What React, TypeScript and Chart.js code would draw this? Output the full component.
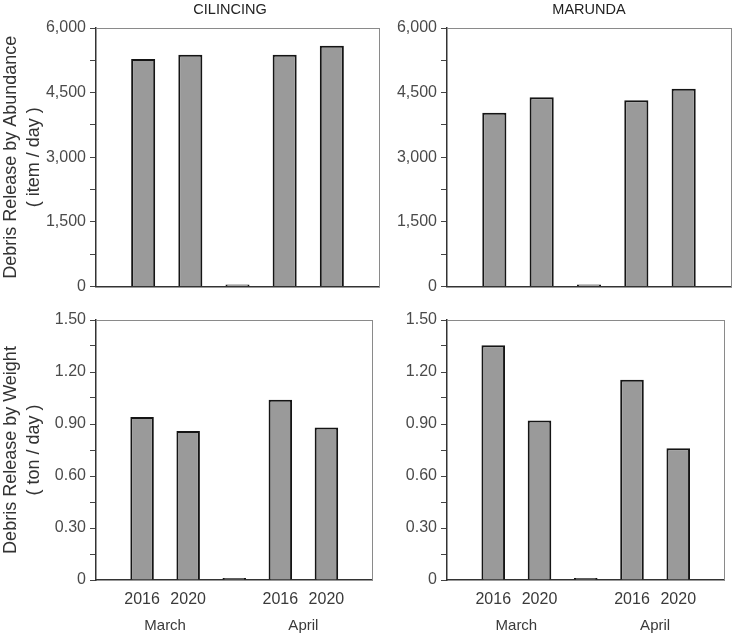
import React, { useEffect, useRef } from 'react';
import { Chart, registerables } from 'chart.js';

Chart.register(...registerables);

// ---------- data ----------
const YEAR_LABELS = ['', '2016', '2020', '', '2016', '2020', ''];
const MONTHS = ['March', 'April'];
const MONTH_POSITIONS = [1.5, 4.5];

const CILINCING_ABUNDANCE = [null, 5280, 5380, 0, 5380, 5590, null];
const MARUNDA_ABUNDANCE = [null, 4030, 4390, 0, 4320, 4590, null];
const CILINCING_WEIGHT = [null, 0.94, 0.86, 0, 1.04, 0.88, null];
const MARUNDA_WEIGHT = [null, 1.355, 0.92, 0, 1.155, 0.76, null];

const ABUNDANCE_MAX = 6000;
const ABUNDANCE_STEP = 750; // minor tick step (labels every 2 steps)
const WEIGHT_MAX = 1.5;
const WEIGHT_STEP = 0.15;

const PANEL_TITLES = ['CILINCING', 'MARUNDA'];
const ABUNDANCE_TITLE = ['Debris Release by Abundance', '( item / day )'];
const WEIGHT_TITLE = ['Debris Release by Weight', '( ton / day )'];

const FONT = '"Liberation Sans", Arial, Helvetica, sans-serif';

type Box = { left: number; top: number; width: number; height: number };
type Panel = {
  title?: string;
  titleFull?: boolean;
  yTitle?: string[];
  data: (number | null)[];
  max: number;
  step: number;
  fmt: (v: number) => string;
  showX: boolean;
  box: Box;
  yWidth: number;
  rWidth: number;
  padTop: number;
  padRight: number;
  xHeight: number;
};

const fmtThousands = (v: number, step: number) => {
  if (Math.round(v / step) % 2 !== 0) return '';
  return String(Math.round(v)).replace(/\B(?=(\d{3})+(?!\d))/g, ',');
};
const fmtDecimal = (v: number, step: number) => {
  if (Math.round(v / step) % 2 !== 0) return '';
  return Math.abs(v) < 1e-9 ? '0' : v.toFixed(2);
};

const PANELS: Panel[] = [
  {
    title: PANEL_TITLES[0],
    titleFull: true,
    yTitle: ABUNDANCE_TITLE,
    data: CILINCING_ABUNDANCE,
    max: ABUNDANCE_MAX,
    step: ABUNDANCE_STEP,
    fmt: (v) => fmtThousands(v, ABUNDANCE_STEP),
    showX: false,
    box: { left: 0, top: 0, width: 460, height: 300 },
    yWidth: 96,
    rWidth: 81,
    padTop: 0,
    padRight: 0,
    xHeight: 11,
  },
  {
    title: PANEL_TITLES[1],
    titleFull: false,
    data: MARUNDA_ABUNDANCE,
    max: ABUNDANCE_MAX,
    step: ABUNDANCE_STEP,
    fmt: (v) => fmtThousands(v, ABUNDANCE_STEP),
    showX: false,
    box: { left: 380, top: 0, width: 354, height: 300 },
    yWidth: 67,
    rWidth: 0,
    padTop: 0,
    padRight: 3,
    xHeight: 11,
  },
  {
    yTitle: WEIGHT_TITLE,
    data: CILINCING_WEIGHT,
    max: WEIGHT_MAX,
    step: WEIGHT_STEP,
    fmt: (v) => fmtDecimal(v, WEIGHT_STEP),
    showX: true,
    box: { left: 0, top: 300, width: 382, height: 337 },
    yWidth: 96,
    rWidth: 0,
    padTop: 20,
    padRight: 3,
    xHeight: 36,
  },
  {
    data: MARUNDA_WEIGHT,
    max: WEIGHT_MAX,
    step: WEIGHT_STEP,
    fmt: (v) => fmtDecimal(v, WEIGHT_STEP),
    showX: true,
    box: { left: 380, top: 300, width: 354, height: 337 },
    yWidth: 67,
    rWidth: 0,
    padTop: 20,
    padRight: 3,
    xHeight: 36,
  },
];

const MONTH_AXIS_HEIGHT = 21;

function buildConfig(p: Panel): any {
  const tickFont = { family: FONT, size: 16 };
  const scales: any = {
    x: {
      type: 'category',
      position: 'bottom',
      offset: false,
      weight: 0,
      grid: { display: false, drawTicks: false, offset: false },
      border: { display: true, color: '#333', width: 1.5 },
      ticks: {
        display: p.showX,
        autoSkip: false,
        maxRotation: 0,
        minRotation: 0,
        padding: 9.5,
        font: tickFont,
        color: '#3a3a3a',
      },
      afterFit: (s: any) => {
        s.height = p.xHeight;
      },
    },
    y: {
      type: 'linear',
      position: 'left',
      min: 0,
      max: p.max,
      grid: { display: true, drawOnChartArea: false, drawTicks: true, tickLength: 6, color: '#444', lineWidth: 1 },
      border: { display: true, color: '#333', width: 1.5 },
      ticks: {
        stepSize: p.step,
        autoSkip: false,
        padding: 4,
        font: tickFont,
        color: '#4a4a4a',
        callback: (v: any) => p.fmt(Number(v)),
      },
      title: p.yTitle
        ? {
            display: true,
            text: p.yTitle,
            font: { family: FONT, size: 18, lineHeight: 1.25 },
            color: '#333',
            padding: { top: 0, bottom: 0 },
          }
        : { display: false },
      afterFit: (s: any) => {
        s.width = p.yWidth;
      },
    },
    yr: {
      type: 'linear',
      position: 'right',
      min: 0,
      max: p.max,
      offset: false,
      grid: { display: false, drawTicks: false },
      border: { display: true, color: '#8a8a8a', width: 1 },
      ticks: { display: false },
      afterFit: (s: any) => {
        s.width = p.rWidth;
      },
    },
    xt: {
      type: 'linear',
      position: 'top',
      min: 0,
      max: YEAR_LABELS.length - 1,
      offset: false,
      grid: { display: false, drawTicks: false, offset: false },
      border: { display: true, color: '#8a8a8a', width: 1 },
      ticks: { display: false },
      afterFit: (s: any) => {
        s.height = 0;
      },
    },
  };
  if (p.showX) {
    scales.xm = {
      type: 'linear',
      position: 'bottom',
      weight: 1,
      min: 0,
      max: YEAR_LABELS.length - 1,
      offset: false,
      grid: { display: false, drawTicks: false, offset: false },
      border: { display: false },
      afterBuildTicks: (s: any) => {
        s.ticks = MONTH_POSITIONS.map((v) => ({ value: v }));
      },
      ticks: {
        autoSkip: false,
        maxRotation: 0,
        minRotation: 0,
        padding: 1,
        font: { family: FONT, size: 15 },
        color: '#3a3a3a',
        callback: (v: any) => {
          const i = MONTH_POSITIONS.indexOf(Number(v));
          return i >= 0 ? MONTHS[i] : '';
        },
      },
      afterFit: (s: any) => {
        s.height = MONTH_AXIS_HEIGHT;
      },
    };
  }

  return {
    type: 'bar',
    data: {
      labels: YEAR_LABELS,
      datasets: [
        {
          data: p.data,
          backgroundColor: '#9a9a9a',
          borderColor: '#151515',
          borderWidth: 2,
          borderSkipped: 'start',
          barPercentage: 1,
          categoryPercentage: 0.51,
          minBarLength: 2,
        },
      ],
    },
    options: {
      animation: false,
      responsive: false,
      maintainAspectRatio: false,
      devicePixelRatio: 1,
      layout: { padding: { top: p.padTop, right: p.padRight, left: 0, bottom: 0 } },
      plugins: {
        legend: { display: false },
        tooltip: { enabled: false },
        title: p.title
          ? {
              display: true,
              text: p.title,
              fullSize: !!p.titleFull,
              color: '#222',
              font: { family: FONT, size: 14.5, weight: 'normal', lineHeight: 1.2 },
              padding: { top: 1, bottom: 9.6 },
            }
          : { display: false },
      },
      scales,
    },
  };
}

function PanelChart({ panel }: { panel: Panel }) {
  const ref = useRef<HTMLCanvasElement | null>(null);
  useEffect(() => {
    const chart = new Chart(ref.current as HTMLCanvasElement, buildConfig(panel));
    return () => chart.destroy();
  }, [panel]);
  const b = panel.box;
  return (
    <canvas
      ref={ref}
      width={b.width}
      height={b.height}
      style={{ position: 'absolute', left: b.left, top: b.top, width: b.width, height: b.height }}
    />
  );
}

export default function App() {
  return (
    <div
      style={{
        position: 'absolute',
        left: 0,
        top: 0,
        width: 734,
        height: 637,
        background: '#fff',
        overflow: 'hidden',
      }}
    >
      {PANELS.map((p, i) => (
        <PanelChart key={i} panel={p} />
      ))}
    </div>
  );
}
